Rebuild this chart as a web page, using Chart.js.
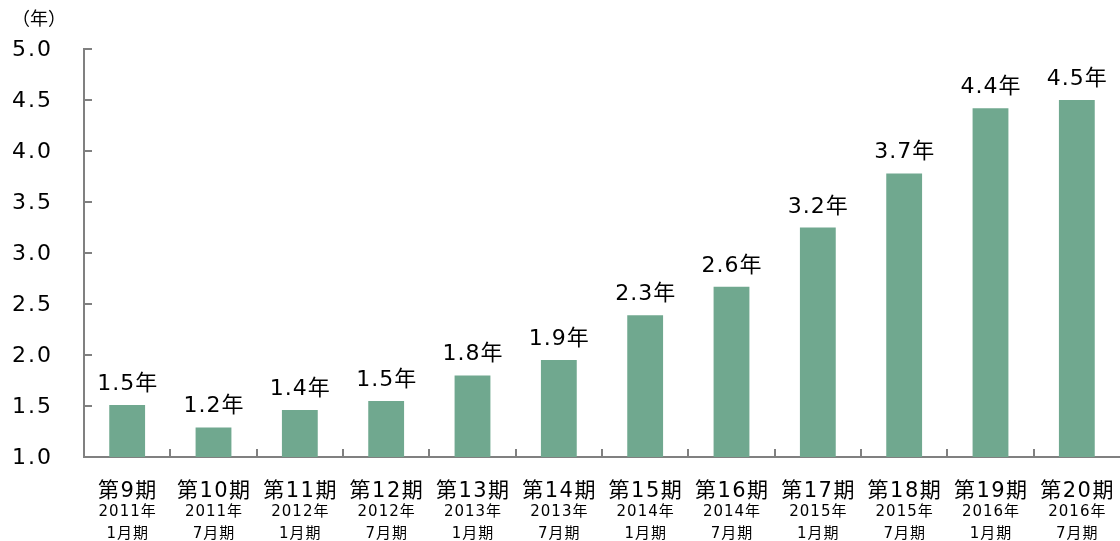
<!DOCTYPE html>
<html>
<head>
<meta charset="utf-8">
<script src="https://cdn.jsdelivr.net/npm/chart.js@4"></script>
<style>
  html, body { margin: 0; padding: 0; background: #fff; }
  #wrap { width: 1120px; height: 541px; position: relative; }
</style>
</head>
<body>
<div id="wrap"><canvas id="kikanChart"></canvas></div>
<script>
// 期・年月・値
const kiLabels = ['第9期', '第10期', '第11期', '第12期', '第13期', '第14期', '第15期', '第16期', '第17期', '第18期', '第19期', '第20期'];
const nenLabels = ['2011年', '2011年', '2012年', '2012年', '2013年', '2013年', '2014年', '2014年', '2015年', '2015年', '2016年', '2016年'];
const tsukiLabels = ['1月期', '7月期', '1月期', '7月期', '1月期', '7月期', '1月期', '7月期', '1月期', '7月期', '1月期', '7月期'];
const values = [1.51, 1.29, 1.46, 1.55, 1.80, 1.95, 2.39, 2.67, 3.25, 3.78, 4.42, 4.50];
const valueLabels = ['1.5年', '1.2年', '1.4年', '1.5年', '1.8年', '1.9年', '2.3年', '2.6年', '3.2年', '3.7年', '4.4年', '4.5年'];
const yTicks = [1.0, 1.5, 2.0, 2.5, 3.0, 3.5, 4.0, 4.5, 5.0];

const FONT = "'DejaVu Sans', 'Noto Sans CJK JP', sans-serif";
const JP = "'Noto Sans CJK JP', 'DejaVu Sans', sans-serif";

// 文字間隔つきで描く
function drawText(ctx, text, x, y, font, ls, align) {
    ctx.font = font;
    ctx.letterSpacing = ls + 'px';
    ctx.textAlign = align;
    let dx = 0;
    if (align === 'center') dx = ls / 2;
    if (align === 'right') dx = ls;
    ctx.fillText(text, x + dx, y);
}

// 目盛り・ラベルを描くプラグイン
const labelPlugin = {
    id: 'labelPlugin',
    afterDraw(chart) {
        const ctx = chart.ctx;
        const x = chart.scales.x;
        const y = chart.scales.y;
        const area = chart.chartArea;
        ctx.save();

        // 内向きの目盛り
        ctx.strokeStyle = '#808080';
        ctx.lineWidth = 2;
        yTicks.forEach(function (v) {
            const py = Math.round(y.getPixelForValue(v));
            ctx.beginPath();
            ctx.moveTo(area.left, py);
            ctx.lineTo(area.left + 8, py);
            ctx.stroke();
        });
        for (let i = 1; i < kiLabels.length; i++) {
            const px = Math.round((x.getPixelForValue(i - 1) + x.getPixelForValue(i)) / 2);
            ctx.beginPath();
            ctx.moveTo(px, area.bottom);
            ctx.lineTo(px, area.bottom - 8);
            ctx.stroke();
        }

        ctx.fillStyle = '#000';

        // 縦軸ラベル
        ctx.textBaseline = 'middle';
        yTicks.forEach(function (v) {
            drawText(ctx, v.toFixed(1), 51, y.getPixelForValue(v) + 1, '22px ' + FONT, 2, 'right');
        });

        // 値ラベル
        ctx.textBaseline = 'alphabetic';
        const meta = chart.getDatasetMeta(0);
        meta.data.forEach(function (bar, i) {
            drawText(ctx, valueLabels[i], bar.x, bar.y - 15, '22px ' + FONT, 1, 'center');
        });

        // 横軸ラベル（3段）
        ctx.textBaseline = 'middle';
        kiLabels.forEach(function (lab, i) {
            const px = x.getPixelForValue(i);
            drawText(ctx, lab, px, area.bottom + 35, '21px ' + FONT, 1.5, 'center');
            drawText(ctx, nenLabels[i], px, area.bottom + 55, '15px ' + FONT, 1, 'center');
            drawText(ctx, tsukiLabels[i], px, area.bottom + 77, '15px ' + FONT, 1, 'center');
        });

        // 単位
        drawText(ctx, '（年）', 12, 18, '18px ' + JP, 0, 'left');
        ctx.restore();
    }
};

document.addEventListener('DOMContentLoaded', function () {
    const ctx = document.getElementById('kikanChart').getContext('2d');
    new Chart(ctx, {
        type: 'bar',
        data: {
            labels: kiLabels,
            datasets: [{
                data: values,
                backgroundColor: '#70A88F',
                borderWidth: 0,
                barPercentage: 0.83,
                categoryPercentage: 0.5
            }]
        },
        options: {
            responsive: true,
            maintainAspectRatio: false,
            animation: false,
            layout: { padding: { top: 49, right: 0, left: 0, bottom: 0 } },
            plugins: {
                legend: { display: false },
                tooltip: { enabled: false }
            },
            scales: {
                x: {
                    grid: { display: false },
                    border: { display: true, color: '#808080', width: 2 },
                    ticks: { display: false },
                    afterFit: function (s) { s.height = 84; }
                },
                y: {
                    min: 1.0,
                    max: 5.0,
                    grid: { display: false, drawTicks: false },
                    border: { display: true, color: '#808080', width: 2 },
                    ticks: { display: false },
                    afterFit: function (s) { s.width = 84; }
                }
            }
        },
        plugins: [labelPlugin]
    });
});
</script>
</body>
</html>
